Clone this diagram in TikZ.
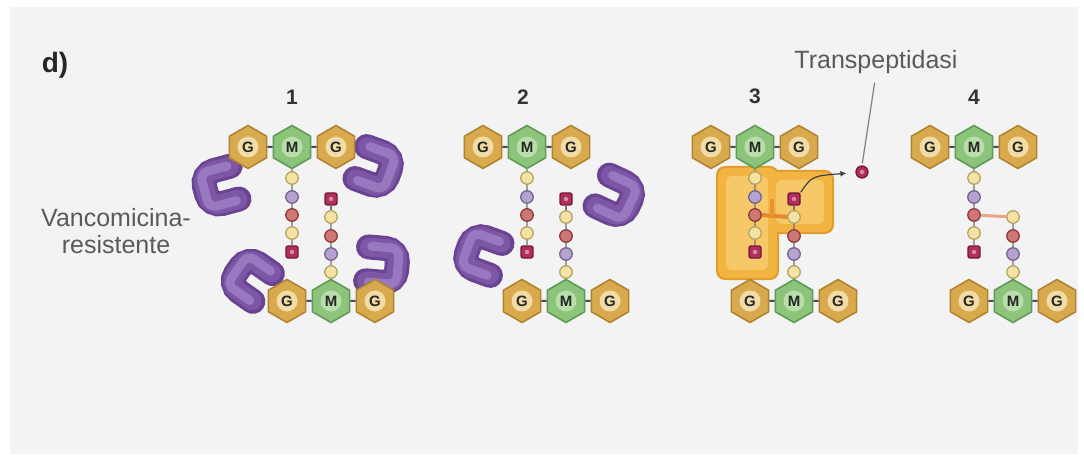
\documentclass[tikz,border=0pt]{standalone}
\usepackage{fontspec}
\setmainfont{Liberation Sans}
\usetikzlibrary{shapes.geometric,arrows.meta}

\definecolor{paper}{HTML}{F3F3F3}
\definecolor{gsug}{HTML}{D9A94E}
\definecolor{gsugd}{HTML}{B08432}
\definecolor{gsugl}{HTML}{F1DCA6}
\definecolor{msug}{HTML}{8CC47C}
\definecolor{msugd}{HTML}{5F9B55}
\definecolor{msugl}{HTML}{B9DEAA}
\definecolor{byel}{HTML}{F3E3A4}
\definecolor{byeld}{HTML}{B8A460}
\definecolor{bpur}{HTML}{B6A2CE}
\definecolor{bpurd}{HTML}{76628F}
\definecolor{bred}{HTML}{CF7774}
\definecolor{bredd}{HTML}{8C3A3C}
\definecolor{bmag}{HTML}{B02F5C}
\definecolor{bmagd}{HTML}{76173A}
\definecolor{vanD}{HTML}{6A4392}
\definecolor{vanM}{HTML}{7D56A6}
\definecolor{vanL}{HTML}{9878BE}
\definecolor{enzD}{HTML}{DE9D2C}
\definecolor{enz}{HTML}{F2B542}
\definecolor{enzL}{HTML}{F6C868}
\definecolor{xlink}{HTML}{E5892C}
\definecolor{xlinkL}{HTML}{EBA487}
\definecolor{txt}{HTML}{5A5A5A}

\tikzset{
  hexbase/.style={regular polygon, regular polygon sides=6, shape border rotate=30,
    minimum size=43pt, inner sep=0pt, line width=1.6pt,
    font=\fontsize{15}{15}\selectfont\bfseries, text=black!85},
  hexG/.style={hexbase, fill=gsug, draw=gsugd,
    path picture={\fill[gsugl] (path picture bounding box.center) circle[radius=10.5];}},
  hexM/.style={hexbase, fill=msug, draw=msugd,
    path picture={\fill[msugl] (path picture bounding box.center) circle[radius=10.5];}},
  glink/.style={line width=2pt, draw=black!70},
  chain/.style={line width=1.3pt, draw=black!55},
  bead/.style={circle, minimum size=12.5pt, inner sep=0pt, line width=1.3pt},
  beadY/.style={bead, fill=byel, draw=byeld},
  beadP/.style={bead, fill=bpur, draw=bpurd},
  beadR/.style={bead, fill=bred, draw=bredd},
  beadS/.style={rectangle, rounded corners=2pt, minimum size=12pt, inner sep=0pt,
    line width=1.3pt, fill=bmag, draw=bmagd,
    path picture={\fill[bmag!55!white] (path picture bounding box.center) circle[radius=2.2];}},
  lbl/.style={font=\fontsize{25}{27}\selectfont, text=txt, inner sep=0pt},
  num/.style={font=\fontsize{21}{21}\selectfont\bfseries, text=black!80, inner sep=0pt},
  % vancomycin clamp, mouth pointing along +x
  vanco/.pic={
    \draw[line width=25pt, vanD, rounded corners=13pt, line cap=round]
      (13,-17) -- (-17,-17) -- (-17,17) -- (13,17);
    \draw[line width=19pt, vanM, rounded corners=11pt, line cap=round]
      (12,-17) -- (-17,-17) -- (-17,17) -- (12,17);
    \draw[line width=9pt, vanL, rounded corners=8pt, line cap=round]
      (10,-18) -- (-18,-18) -- (-18,18) -- (10,18);
  },
}

% upper strand: G-M-G with the stem peptide hanging below M
\newcommand{\upstrand}[2]{%
  \node[hexG] (#1g1) at ({#2-44},147) {G};
  \node[hexM] (#1m)  at (#2,147) {M};
  \node[hexG] (#1g2) at ({#2+44},147) {G};
  \draw[glink] (#1g1) -- (#1m);
  \draw[glink] (#1m) -- (#1g2);
  \node[beadY] (#1t1) at (#2,178) {};
  \node[beadP] (#1t2) at (#2,197) {};
  \node[beadR] (#1t3) at (#2,215) {};
  \node[beadY] (#1t4) at (#2,233) {};
  \node[beadS] (#1t5) at (#2,252) {};
  \draw[chain] (#1m) -- (#1t1) -- (#1t2) -- (#1t3) -- (#1t4) -- (#1t5);
}

% lower strand: G-M-G with the stem peptide rising above M
\newcommand{\downstrand}[3]{%
  \node[hexG] (#1h1) at ({#2-44},301) {G};
  \node[hexM] (#1n)  at (#2,301) {M};
  \node[hexG] (#1h2) at ({#2+44},301) {G};
  \draw[glink] (#1h1) -- (#1n);
  \draw[glink] (#1n) -- (#1h2);
  \node[beadY] (#1b5) at (#2,272) {};
  \node[beadP] (#1b4) at (#2,254) {};
  \node[beadR] (#1b3) at (#2,236) {};
  \node[beadY] (#1b2) at (#2,217) {};
  \draw[chain] (#1n) -- (#1b5) -- (#1b4) -- (#1b3) -- (#1b2);
  \ifnum#3=1
    \node[beadS] (#1b1) at (#2,199) {};
    \draw[chain] (#1b2) -- (#1b1);
  \fi
}

\begin{document}
\begin{tikzpicture}[x=1pt, y=-1pt]
  \useasboundingbox (0,0) rectangle (1084,465);
  \fill[white] (0,0) rectangle (1084,465);
  \fill[paper] (10,7) rectangle (1078,454);

  % captions
  \node[font=\fontsize{28}{28}\selectfont\bfseries, text=black!85, inner sep=0pt] (tag) at (55,65) {d)};
  \node[lbl, align=center] (vr) at (116,231) {Vancomicina-\\resistente};
  \node[num] (n1) at (292,97) {1};
  \node[num] (n2) at (523,97) {2};
  \node[num] (n3) at (755,96) {3};
  \node[num] (n4) at (974,97) {4};
  \node[lbl] (tlab) at (876,62) {Transpeptidasi};

  % stage 1: four vancomycin clamps around the precursors
  \pic[rotate=15]  at (222,186) {vanco};
  \pic[rotate=160] at (373,167) {vanco};
  \pic[rotate=-35] at (252,280) {vanco};
  \pic[rotate=175] at (380,265) {vanco};
  \upstrand{a}{292}
  \downstrand{a}{331}{1}

  % stage 2: two clamps left
  \pic[rotate=155] at (614,196) {vanco};
  \pic[rotate=-20] at (484,255) {vanco};
  \upstrand{b}{527}
  \downstrand{b}{566}{1}

  % stage 3: transpeptidase at work
  \begin{scope}
    \fill[enzD, rounded corners=9pt] (716,166) rectangle (779,280);
    \fill[enzD, rounded corners=9pt] (763,170) rectangle (834,234);
    \fill[enz, rounded corners=8pt] (718,168) rectangle (777,278);
    \fill[enz, rounded corners=8pt] (765,172) rectangle (832,232);
    \fill[enzL, rounded corners=6pt] (726,176) rectangle (768,270);
    \fill[enzL, rounded corners=6pt] (776,180) rectangle (824,224);
  \end{scope}
  \upstrand{c}{755}
  \draw[line width=4pt, xlink] (ct3.east) -- (788,217);
  \draw[line width=4pt, xlink!80!enz] (772,217) -- (772,199);
  \downstrand{c}{794}{1}
  \node[beadS, circle] (rel) at (862,172) {};
  \draw[line width=1.2pt, black!75, shorten >=9pt, -{Latex[length=6pt,width=6pt]}]
    (cb1.north east) .. controls (812,176) .. (rel);
  \draw[line width=1.2pt, black!50, shorten <=9pt, shorten >=2pt] (tlab.south) -- (rel.north);

  % stage 4: cross-linked peptidoglycan
  \upstrand{d}{974}
  \downstrand{d}{1013}{0}
  \draw[line width=3pt, xlinkL] (dt3) -- (db2);
\end{tikzpicture}
\end{document}
